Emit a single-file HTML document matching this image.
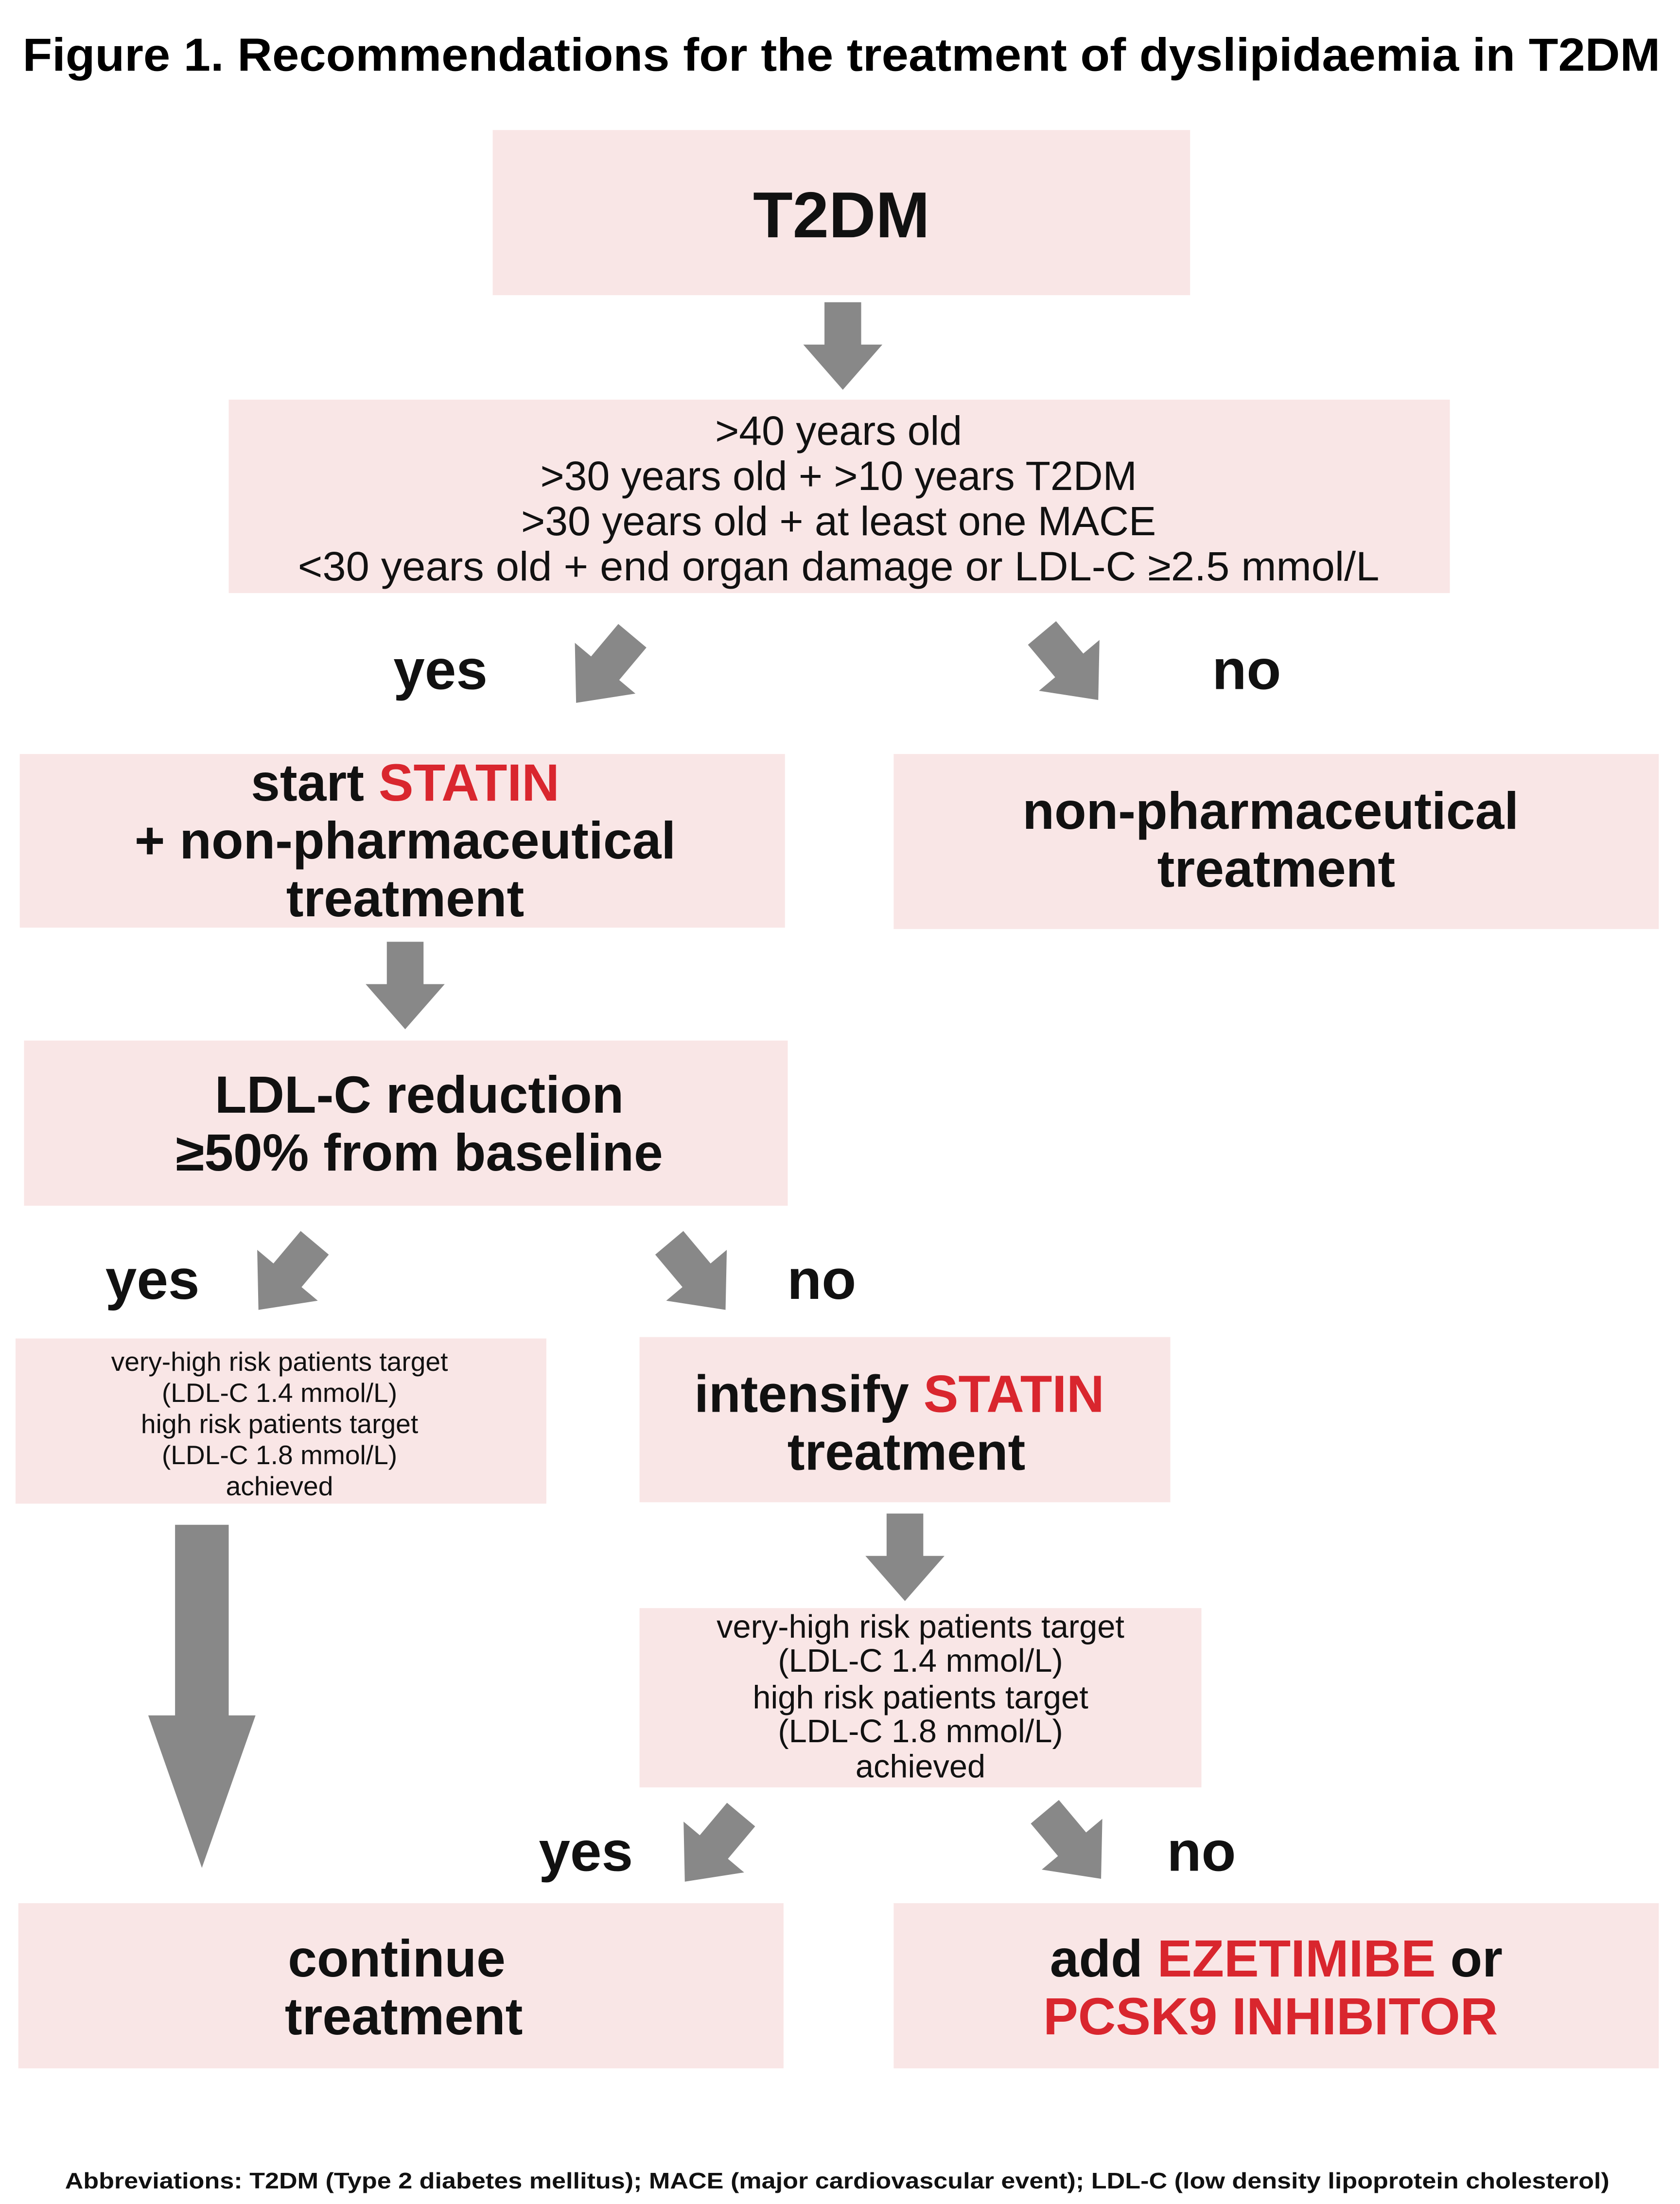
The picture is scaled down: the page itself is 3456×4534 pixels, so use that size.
<!DOCTYPE html>
<html><head><meta charset="utf-8"><style>html,body{margin:0;padding:0;background:#fff}svg{display:block}</style></head>
<body>
<svg xmlns="http://www.w3.org/2000/svg" width="3456" height="4534" viewBox="0 0 1190 1561" font-family="Liberation Sans, sans-serif">
<defs>
<path id="a" d="M-13,-31 L13,-31 L13,-1 L28,-1 L0,31 L-28,-1 L-13,-1 Z" fill="#888"/>
</defs>
<rect width="1190" height="1561" fill="#fff"/>
<text x="596" y="50" font-size="33" font-weight="bold" text-anchor="middle" textLength="1160" lengthAdjust="spacingAndGlyphs">Figure 1. Recommendations for the treatment of dyslipidaemia in T2DM</text>
<g fill="#f9e6e6">
<rect x="349" y="92" width="494" height="117"/>
<rect x="162" y="283" width="865" height="137"/>
<rect x="14" y="534" width="542" height="123"/>
<rect x="633" y="534" width="542" height="124"/>
<rect x="17" y="737" width="541" height="117"/>
<rect x="11" y="948" width="376" height="117"/>
<rect x="453" y="947" width="376" height="117"/>
<rect x="453" y="1139" width="398" height="127"/>
<rect x="13" y="1348" width="542" height="117"/>
<rect x="633" y="1348" width="542" height="117"/>
</g>
<use href="#a" transform="translate(597,245)"/>
<use href="#a" transform="translate(287,698)"/>
<use href="#a" transform="translate(641,1103)"/>
<use href="#a" transform="translate(428,474) rotate(40)"/>
<use href="#a" transform="translate(758,472) rotate(-40)"/>
<use href="#a" transform="translate(203,904) rotate(40)"/>
<use href="#a" transform="translate(494,904) rotate(-40)"/>
<use href="#a" transform="translate(505,1309) rotate(40)"/>
<use href="#a" transform="translate(760,1307) rotate(-40)"/>
<path d="M124,1080 L162,1080 L162,1215 L181,1215 L143,1323 L105,1215 L124,1215 Z" fill="#888"/>
<g text-anchor="middle" fill="#111">
<text x="596" y="168" font-size="46" font-weight="bold">T2DM</text>
<g font-size="29">
<text x="594" y="315">&gt;40 years old</text>
<text x="594" y="347">&gt;30 years old + &gt;10 years T2DM</text>
<text x="594" y="379">&gt;30 years old + at least one MACE</text>
<text x="594" y="411" textLength="766" lengthAdjust="spacingAndGlyphs">&lt;30 years old + end organ damage or LDL-C ≥2.5 mmol/L</text>
</g>
<g font-size="40" font-weight="bold">
<text x="312" y="488">yes</text><text x="883" y="488">no</text>
<text x="108" y="920">yes</text><text x="582" y="920">no</text>
<text x="415" y="1325">yes</text><text x="851" y="1325">no</text>
</g>
<g font-size="37" font-weight="bold">
<text x="287" y="567">start <tspan fill="#d9262e">STATIN</tspan></text>
<text x="287" y="608">+ non-pharmaceutical</text>
<text x="287" y="649">treatment</text>
<text x="900" y="587">non-pharmaceutical</text>
<text x="904" y="628">treatment</text>
<text x="297" y="788">LDL-C reduction</text>
<text x="297" y="829">≥50% from baseline</text>
<text x="637" y="1000">intensify <tspan fill="#d9262e">STATIN</tspan></text>
<text x="642" y="1041">treatment</text>
<text x="281" y="1400">continue</text>
<text x="286" y="1441">treatment</text>
<text x="904" y="1400">add <tspan fill="#d9262e">EZETIMIBE</tspan> or</text>
<text x="900" y="1441" fill="#d9262e">PCSK9 INHIBITOR</text>
</g>
<g font-size="19">
<text x="198" y="971">very-high risk patients target</text>
<text x="198" y="993">(LDL-C 1.4 mmol/L)</text>
<text x="198" y="1015">high risk patients target</text>
<text x="198" y="1037">(LDL-C 1.8 mmol/L)</text>
<text x="198" y="1059">achieved</text>
</g>
<g font-size="23">
<text x="652" y="1160">very-high risk patients target</text>
<text x="652" y="1184">(LDL-C 1.4 mmol/L)</text>
<text x="652" y="1210">high risk patients target</text>
<text x="652" y="1234">(LDL-C 1.8 mmol/L)</text>
<text x="652" y="1259">achieved</text>
</g>
<text x="593" y="1550" font-size="16" font-weight="bold" textLength="1094" lengthAdjust="spacingAndGlyphs">Abbreviations: T2DM (Type 2 diabetes mellitus); MACE (major cardiovascular event); LDL-C (low density lipoprotein cholesterol)</text>
</g>
</svg>
</body></html>
